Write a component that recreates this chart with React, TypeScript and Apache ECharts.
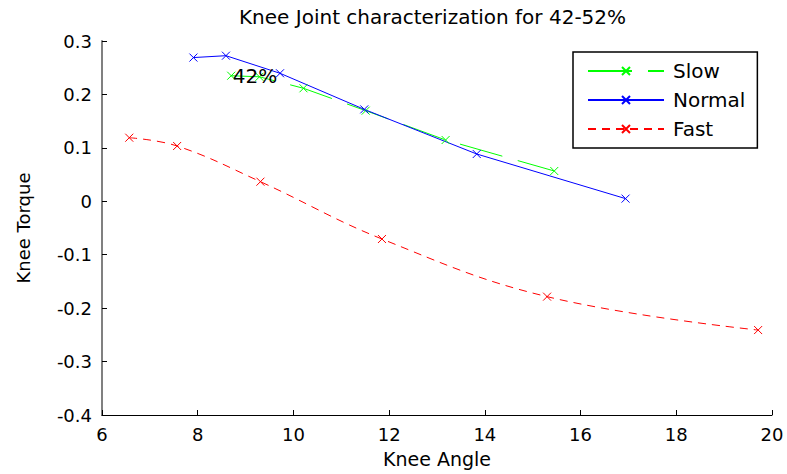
import React, { useEffect, useRef } from "react";
import * as echarts from "echarts";

// Knee angle / torque samples for each walking speed
const angleSlow = [8.7, 9.29, 10.21, 11.51, 13.18, 15.45];
const torqueSlow = [0.235, 0.233, 0.2115, 0.1696, 0.1147, 0.0567];

const angleNormal = [7.91, 8.59, 9.72, 11.48, 13.83, 16.94];
const torqueNormal = [0.269, 0.2725, 0.2396, 0.172, 0.0885, 0.005];

const angleFast = [6.57, 7.57, 9.31, 11.85, 15.3, 19.71];
const torqueFast = [0.119, 0.1035, 0.0367, -0.0706, -0.1785, -0.241];

const seriesNames = ["Slow", "Normal", "Fast"];
const titleText = "Knee Joint characterization for 42-52%";
const annotationText = "42%";

const FONT = "DejaVu Sans";
const CROSS = "path://M0,0L10,10M0,10L10,0";

const zip = (xs: number[], ys: number[]) => xs.map((x, i) => [x, ys[i]]);

const markerStyle = (color: string) => ({
  color: "none",
  borderColor: color,
  borderWidth: 1,
});

export default function App() {
  const ref = useRef<HTMLDivElement>(null);

  useEffect(() => {
    if (!ref.current) return;
    const chart = echarts.init(ref.current, null, { renderer: "svg" });
    chart.setOption({
      animation: false,
      backgroundColor: "#fff",
      title: {
        text: titleText,
        left: 234,
        top: 0,
        padding: [7, 5, 5, 5],
        textStyle: {
          fontFamily: FONT,
          fontSize: 20,
          fontWeight: "normal",
          color: "#000",
        },
      },
      grid: { left: 102, right: 15, top: 41, bottom: 59, containLabel: false },
      legend: {
        data: seriesNames,
        orient: "vertical",
        left: 573,
        top: 52,
        padding: [9, 12, 9, 14],
        itemWidth: 76,
        itemHeight: 10,
        itemGap: 9,
        borderColor: "#000",
        borderWidth: 1.5,
        backgroundColor: "#fff",
        textStyle: { fontFamily: FONT, fontSize: 20, color: "#000", padding: [0, 0, 0, 4] },
      },
      xAxis: {
        type: "value",
        min: 6,
        max: 20,
        interval: 2,
        name: "Knee Angle",
        nameLocation: "middle",
        nameGap: 34,
        nameTextStyle: { fontFamily: FONT, fontSize: 19, color: "#000" },
        axisLine: { onZero: false, lineStyle: { color: "#000", width: 1 } },
        axisTick: { inside: true, length: 5, lineStyle: { color: "#000" } },
        axisLabel: { fontFamily: FONT, fontSize: 18, color: "#000", margin: 10 },
        splitLine: { show: false },
      },
      yAxis: {
        type: "value",
        min: -0.4,
        max: 0.3,
        interval: 0.1,
        name: "Knee Torque",
        nameLocation: "middle",
        nameGap: 70,
        nameTextStyle: { fontFamily: FONT, fontSize: 18, color: "#000" },
        axisLine: { onZero: false, lineStyle: { color: "#808080", width: 2 } },
        axisTick: { inside: true, length: 5, lineStyle: { color: "#000" } },
        axisLabel: { fontFamily: FONT, fontSize: 18, color: "#000", margin: 10 },
        splitLine: { show: false },
      },
      series: [
        {
          name: "Slow",
          type: "line",
          data: zip(angleSlow, torqueSlow),
          symbol: CROSS,
          symbolSize: 8,
          showAllSymbol: true,
          lineStyle: { color: "#00ff00", width: 1, type: [44, 16] },
          itemStyle: markerStyle("#00ff00"),
          markPoint: {
            symbol: "circle",
            symbolSize: 1,
            itemStyle: { color: "rgba(0,0,0,0)" },
            label: {
              show: true,
              position: "right",
              distance: 1,
              formatter: annotationText,
              fontFamily: FONT,
              fontSize: 20,
              color: "#000",
            },
            data: [{ coord: [angleSlow[0], torqueSlow[0]] }],
          },
        },
        {
          name: "Normal",
          type: "line",
          data: zip(angleNormal, torqueNormal),
          symbol: CROSS,
          symbolSize: 8,
          showAllSymbol: true,
          lineStyle: { color: "#0000ff", width: 1 },
          itemStyle: markerStyle("#0000ff"),
        },
        {
          name: "Fast",
          type: "line",
          data: zip(angleFast, torqueFast),
          symbol: CROSS,
          symbolSize: 8,
          showAllSymbol: true,
          smooth: 0.4,
          lineStyle: { color: "#ff0000", width: 1, type: [8, 6] },
          itemStyle: markerStyle("#ff0000"),
        },
      ],
    });
    return () => chart.dispose();
  }, []);

  return <div ref={ref} style={{ width: 787, height: 474, position: "fixed", left: 0, top: 0 }} />;
}
